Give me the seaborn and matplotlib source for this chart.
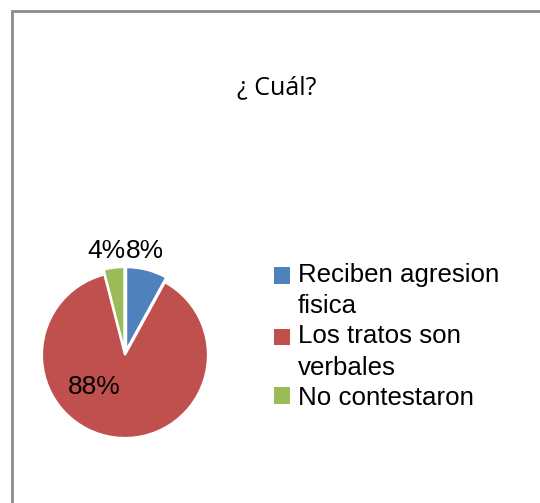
import matplotlib
matplotlib.use("Agg")
import matplotlib.pyplot as plt
import matplotlib.patches as mpatches
from matplotlib.legend_handler import HandlerPatch
import seaborn as sns

# Data
categories = ["Reciben agresion\nfisica", "Los tratos son\nverbales", "No contestaron"]
shares = [8, 88, 4]
pct_labels = ["8%", "88%", "4%"]
explode = [0.06, 0.0, 0.06]

# Styling
sns.set_style("white")
plt.rcParams["font.family"] = ["Liberation Sans", "DejaVu Sans"]
plt.rcParams["text.color"] = "black"
colors = sns.color_palette(["#4F81BD", "#C0504D", "#9BBB59"])

fig = plt.figure(figsize=(5.4, 5.03), dpi=100)

# chart border like an Excel chart area
border = mpatches.Rectangle((12 / 540, -0.1), 1.2, 1 - 11 / 503 + 0.1,
                            transform=fig.transFigure, fill=False,
                            edgecolor="#8c8c8c", linewidth=2)
fig.patches.append(border)

ax = fig.add_axes([0.0394, 0.088, 0.384, 0.4125])
wedges, _ = ax.pie(shares, colors=colors, startangle=90, counterclock=False,
                   explode=explode, wedgeprops=dict(edgecolor="white", linewidth=1.5))
ax.set_xlim(-1.25, 1.25)
ax.set_ylim(-1.25, 1.25)
ax.set_aspect("equal")
ax.axis("off")

# percentage labels, placed like Excel's best fit
ax.text(0.012, 1.17, pct_labels[2], ha="right", va="baseline", fontsize=19)
ax.text(0.012, 1.17, pct_labels[0], ha="left", va="baseline", fontsize=19)
ax.text(-0.37, -0.385, pct_labels[1], ha="center", va="center", fontsize=19)

fig.text(0.513, 1 - 88 / 503, "¿ Cuál?", ha="center", va="center",
         fontsize=18, family=["Open Sans", "DejaVu Sans"])

# legend: square marker next to the first line of each label
leg_size = 18.6
line_pitch = 22.0  # points


def square_at_first_line(label):
    extra = label.count("\n") * line_pitch / 2

    def make(legend, orig_handle, xdescent, ydescent, width, height, fontsize):
        return mpatches.Rectangle((-xdescent, -ydescent + extra), width, height)
    return HandlerPatch(patch_func=make)


handles = [mpatches.Patch(facecolor=c, edgecolor="none") for c in colors]
handler_map = {h: square_at_first_line(l) for h, l in zip(handles, categories)}
leg = fig.legend(handles, categories, handler_map=handler_map, loc="upper left",
                 bbox_to_anchor=(0.508, 0.478), frameon=False, fontsize=leg_size,
                 handlelength=0.6, handleheight=0.6, handletextpad=0.3,
                 labelspacing=0.22, borderaxespad=0, borderpad=0)
for t in leg.get_texts():
    t.set_linespacing(1.41)

fig.savefig("out.png", dpi=100)
